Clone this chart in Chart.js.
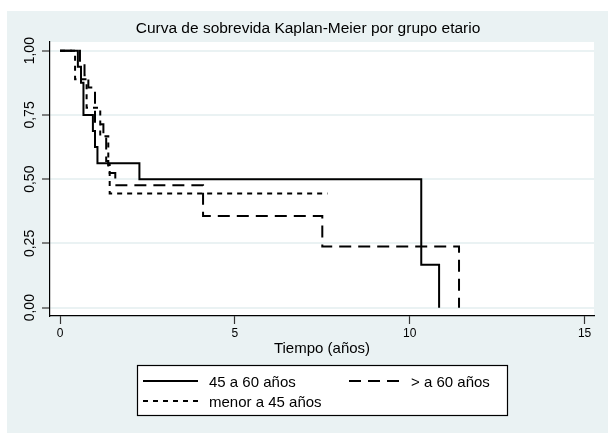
<!DOCTYPE html>
<html>
<head>
<meta charset="utf-8">
<script src="https://cdn.jsdelivr.net/npm/chart.js@4.4.0/dist/chart.umd.min.js"></script>
<style>
  body { margin: 0; background: #fff; }
  canvas { display: block; }
</style>
</head>
<body>
<canvas id="kmChart" width="608" height="433"></canvas>
<script>
// Ticks
const xTickValues = [0, 5, 10, 15];
const yTickValues = [0, 0.25, 0.5, 0.75, 1];
const yTickLabels = ['0,00', '0,25', '0,50', '0,75', '1,00'];

// Groups (legend order)
const groupNames = ['45 a 60 años', '> a 60 años', 'menor a 45 años'];

// Kaplan-Meier steps: time (years) and survival after each drop
const timeMid = [0, 0.51, 0.60, 0.67, 0.94, 1.00, 1.07, 2.27, 10.33, 10.84];
const survMid = [1, 0.9375, 0.875, 0.75, 0.6875, 0.625, 0.5625, 0.5, 0.1667, 0];

const timeOld = [0, 0.57, 0.70, 0.81, 1.00, 1.24, 1.32, 1.38, 1.58, 4.09, 7.50, 11.41];
const survOld = [1, 0.952, 0.905, 0.857, 0.714, 0.667, 0.571, 0.524, 0.476, 0.357, 0.238, 0];

const timeYoung = [0, 0.43, 0.76, 1.15, 1.38, 1.42, 7.65];
const survYoung = [1, 0.889, 0.778, 0.667, 0.556, 0.444, 0.444];

const FONT = '"Liberation Sans", Arial, sans-serif';
Chart.defaults.font.family = FONT;
Chart.defaults.color = '#000';

function toPoints(times, surv) {
    return times.map((t, i) => ({ x: t, y: surv[i] }));
}

// Stata-like background: bluish graph region, white plot region
const bgPlugin = {
    id: 'stataBg',
    beforeDraw(chart) {
        const ctx = chart.ctx;
        const a = chart.chartArea;
        ctx.save();
        ctx.fillStyle = '#ffffff';
        ctx.fillRect(0, 0, chart.width, chart.height);
        ctx.fillStyle = '#eaf2f3';
        ctx.fillRect(7, 11, chart.width - 7, chart.height - 11);
        ctx.fillStyle = '#ffffff';
        ctx.fillRect(a.left, a.top, a.right - a.left, a.bottom - a.top);
        ctx.restore();
    }
};

// Title, rotated y labels and the boxed legend
const textPlugin = {
    id: 'stataText',
    afterDraw(chart) {
        const ctx = chart.ctx;
        ctx.save();
        ctx.fillStyle = '#000';

        // title, centered on the graph region
        ctx.font = '15.5px ' + FONT;
        ctx.textAlign = 'center';
        ctx.textBaseline = 'alphabetic';
        ctx.fillText('Curva de sobrevida Kaplan-Meier por grupo etario', 308, 32.5);

        // y tick labels, vertical
        const yScale = chart.scales.y;
        ctx.font = '14px ' + FONT;
        yTickValues.forEach((v, i) => {
            const py = yScale.getPixelForValue(v);
            ctx.save();
            ctx.translate(34, py);
            ctx.rotate(-Math.PI / 2);
            ctx.textAlign = 'center';
            ctx.fillText(yTickLabels[i], 0, 0);
            ctx.restore();
        });

        // legend box
        ctx.fillStyle = '#fff';
        ctx.fillRect(137.5, 365.5, 370, 50);
        ctx.strokeStyle = '#000';
        ctx.lineWidth = 1.2;
        ctx.strokeRect(137.5, 365.5, 370, 50);

        const items = [
            { x: 143, y: 381, len: 55, tx: 209 },
            { x: 349, y: 381, len: 50, tx: 411 },
            { x: 143, y: 401, len: 55, tx: 209 }
        ];
        chart.data.datasets.forEach((ds, i) => {
            const it = items[i];
            ctx.beginPath();
            ctx.setLineDash(ds.borderDash || []);
            ctx.lineWidth = ds.borderWidth;
            ctx.strokeStyle = ds.borderColor;
            ctx.moveTo(it.x, it.y);
            ctx.lineTo(it.x + it.len, it.y);
            ctx.stroke();
            ctx.setLineDash([]);
            ctx.fillStyle = '#000';
            ctx.font = '15px ' + FONT;
            ctx.textAlign = 'left';
            ctx.fillText(ds.label, it.tx, it.y + 6);
        });
        ctx.restore();
    }
};

const ctx = document.getElementById('kmChart').getContext('2d');
const chart = new Chart(ctx, {
    type: 'line',
    data: {
        datasets: [
            {
                label: groupNames[0],
                data: toPoints(timeMid, survMid),
                borderColor: '#000',
                borderWidth: 2,
                borderDash: []
            },
            {
                label: groupNames[1],
                data: toPoints(timeOld, survOld),
                borderColor: '#000',
                borderWidth: 2,
                borderDash: [12, 7]
            },
            {
                label: groupNames[2],
                data: toPoints(timeYoung, survYoung),
                borderColor: '#000',
                borderWidth: 2,
                borderDash: [5, 5]
            }
        ]
    },
    options: {
        responsive: false,
        animation: false,
        devicePixelRatio: 1,
        elements: {
            point: { radius: 0 },
            line: { tension: 0, stepped: true, borderCapStyle: 'butt' }
        },
        layout: { padding: { top: 42, right: 14, left: 0, bottom: 0 } },
        plugins: {
            legend: { display: false },
            title: { display: false },
            tooltip: { enabled: false }
        },
        scales: {
            x: {
                type: 'linear',
                position: 'bottom',
                min: -0.287,
                max: 15.27,
                afterBuildTicks: scale => { scale.ticks = xTickValues.map(v => ({ value: v })); },
                afterFit: scale => { scale.height = 117; },
                ticks: {
                    font: { size: 12 },
                    color: '#000',
                    padding: 2,
                    maxRotation: 0,
                    autoSkip: false,
                    callback: v => String(v)
                },
                grid: {
                    drawOnChartArea: false,
                    drawTicks: true,
                    tickLength: 8,
                    tickColor: '#333',
                    tickWidth: 1.2
                },
                border: { display: true, color: '#000', width: 1.2 },
                title: {
                    display: true,
                    text: 'Tiempo (años)',
                    font: { size: 15 },
                    color: '#000',
                    padding: { top: 0, bottom: 75 }
                }
            },
            y: {
                type: 'linear',
                min: -0.0323,
                max: 1.0339,
                afterBuildTicks: scale => { scale.ticks = yTickValues.map(v => ({ value: v })); },
                afterFit: scale => { scale.width = 50; },
                ticks: { display: false },
                grid: {
                    color: '#eaf2f3',
                    lineWidth: 2,
                    drawTicks: true,
                    tickLength: 8,
                    tickColor: '#333',
                    tickWidth: 1.2
                },
                border: { display: true, color: '#000', width: 1.2 }
            }
        }
    },
    plugins: [bgPlugin, textPlugin]
});
</script>
</body>
</html>
